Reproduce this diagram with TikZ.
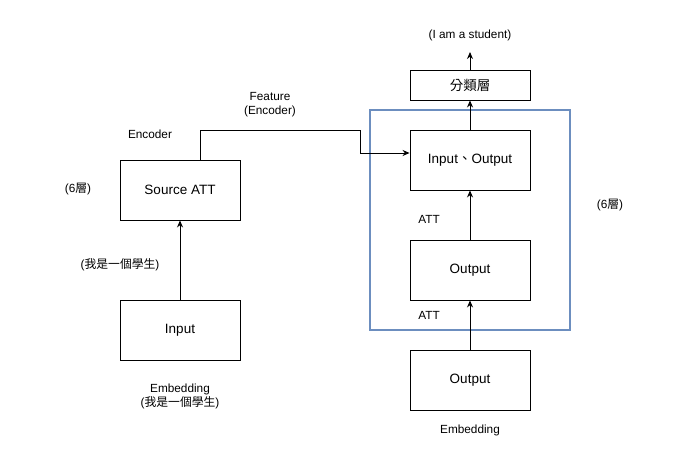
\documentclass[tikz,border=0pt]{standalone}
\usepackage{fontspec}
\setmainfont{Liberation Sans}
\newfontfamily\cjk{Noto Sans CJK TC}
\usetikzlibrary{arrows.meta}
\definecolor{frameblue}{HTML}{6C8EBF}
\tikzset{
  box/.style={draw=black, line width=0.9pt, minimum width=120pt, minimum height=60pt, inner sep=0pt, font=\fontsize{13.5}{16}\selectfont},
  thinbox/.style={box, minimum height=30pt},
  lbl/.style={font=\fontsize{11.8}{14}\selectfont, align=center, inner sep=0pt},
  conn/.style={line width=0.9pt, -{Stealth[length=7pt,width=6pt]}},
}
\begin{document}
\begin{tikzpicture}[x=1pt,y=-1pt]
\useasboundingbox[fill=white] (0,0) rectangle (690,465);
% frame
\draw[frameblue, line width=1.8pt] (370,110) rectangle (570,330);
% boxes
\node[box] (src) at (180,190) {Source ATT};
\node[box] (inp) at (180,330) {Input};
\node[box] (io) at (470,160) {Input{\cjk 、}Output};
\node[thinbox] (cls) at (470,85) {{\cjk 分類層}};
\node[box] (outm) at (470,270) {Output};
\node[box] (outb) at (470,380) {Output};
\coordinate (top) at (470,52);
\coordinate (f1) at (200,160);
\coordinate (f2) at (200,130);
\coordinate (f3) at (360,130);
\coordinate (f4) at (360,153);
% connectors
\draw[conn] (inp.north) -- (src.south);
\draw[conn] (outb.north) -- (outm.south);
\draw[conn] (outm.north) -- (io.south);
\draw[conn] (io.north) -- (cls.south);
\draw[conn] (cls.north) -- (top);
\draw[conn] (f1) -- (f2) -- (f3) -- (f4) -- (io.west |- f4);
% labels
\node[lbl] (l1) at (470,35) {(I am a student)};
\node[lbl] (l2) at (270,105) {Feature\\(Encoder)};
\node[lbl] (l3) at (150,134) {Encoder};
\node[lbl] (l4) at (78,189) {(6{\cjk 層})};
\node[lbl] (l5) at (120,265) {({\cjk 我是一個學生})};
\node[lbl] (l6) at (180,396) {Embedding\\({\cjk 我是一個學生})};
\node[lbl] (l7) at (429,219) {ATT};
\node[lbl] (l8) at (429,315) {ATT};
\node[lbl] (l9) at (610,205) {(6{\cjk 層})};
\node[lbl] (l10) at (470,430) {Embedding};
\end{tikzpicture}
\end{document}
